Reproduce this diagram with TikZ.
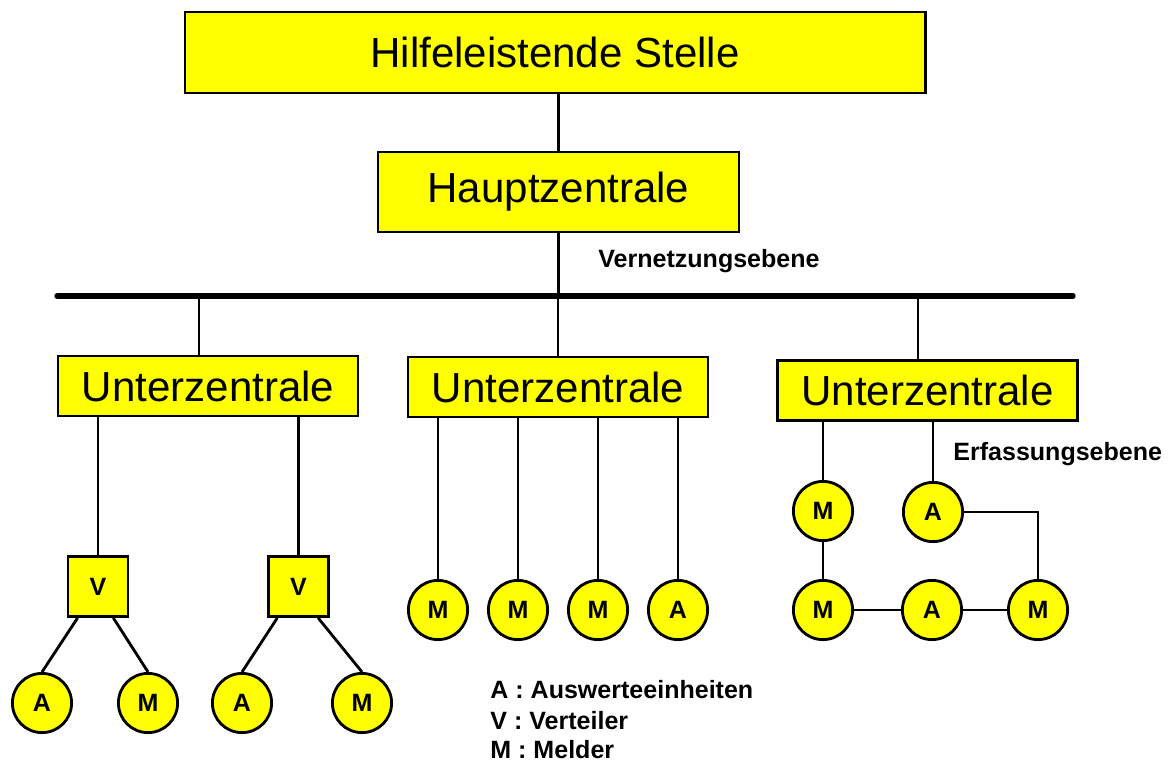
\documentclass[tikz,border=0pt]{standalone}
\usepackage{fontspec}
\setmainfont{Liberation Sans}
\usetikzlibrary{positioning}
\definecolor{gelb}{RGB}{255,255,0}

\begin{document}
\begin{tikzpicture}[x=0.025cm,y=-0.025cm,line width=2pt,
    kasten/.style={draw,fill=gelb,inner sep=0pt,font=\fontsize{29.9}{34}\selectfont},
    unterz/.style={kasten,minimum width=7.5cm,minimum height=1.5cm},
    verteiler/.style={draw,fill=gelb,inner sep=0pt,minimum size=1.5cm,font=\fontsize{17.8}{21}\selectfont\bfseries},
    rund/.style={draw,fill=gelb,circle,inner sep=0pt,minimum size=1.48cm,font=\fontsize{17.8}{21}\selectfont\bfseries},
    notiz/.style={anchor=base west,inner sep=0pt,font=\fontsize{17.8}{21}\selectfont\bfseries}]
    \useasboundingbox (0,0) rectangle (1169,763);
    % Leitstelle und Hauptzentrale
    \node[kasten,minimum width=18.5cm,minimum height=2.025cm] (hs) at (555,52.5) {Hilfeleistende Stelle};
    \node[kasten,minimum width=9.025cm,minimum height=2cm] (hz) at (558.5,192) {Hauptzentrale};
    \draw (hz.north) -- (hz.north |- hs.south);
    % Vernetzungsebene
    \coordinate (busL) at (57,296);
    \coordinate (busR) at (1073,296);
    \coordinate (b1) at (199,296);
    \coordinate (b3) at (918,296);
    \draw[line width=3.8pt,line cap=round] (busL) -- (busR);
    \draw (hz.south) -- (hz.south |- busL);
    \node[notiz] (vn) at (597,267) {Vernetzungsebene};
    \node[unterz] (uz1) at (208,386) {Unterzentrale};
    \node[unterz] (uz2) at (558,387) {Unterzentrale};
    \node[unterz] (uz3) at (927.5,390.5) {Unterzentrale};
    \draw (b1) -- (b1 |- uz1.north);
    \draw (uz2.north) -- (uz2.north |- busL);
    \draw (b3) -- (b3 |- uz3.north);
    % links: ueber Verteiler
    \node[verteiler] (v1) at (98,586.5) {V};
    \node[verteiler] (v2) at (298.5,586.5) {V};
    \node[rund] (a1) at (42,703) {A};
    \node[rund] (m1) at (148,703) {M};
    \node[rund] (a2) at (242,703) {A};
    \node[rund] (m2) at (362,703) {M};
    \draw (v1.north) -- (v1.north |- uz1.south);
    \draw (v2.north) -- (v2.north |- uz1.south);
    \draw (v1.-123) -- (a1.north);
    \draw (v1.-64) -- (m1.north);
    \draw (v2.-124) -- (a2.north);
    \draw (v2.-58) -- (m2.north);
    % Mitte: Stich
    \foreach \x/\t [count=\i] in {438/M,518/M,598/M,678/A}{
        \node[rund] (c\i) at (\x,610) {\t};
        \draw (c\i.north) -- (c\i.north |- uz2.south);
    }
    % rechts: Ring
    \node[rund] (r1) at (823,511) {M};
    \node[rund] (r2) at (933,512) {A};
    \node[rund] (r3) at (823,610) {M};
    \node[rund] (r4) at (932,610) {A};
    \node[rund] (r5) at (1038,610) {M};
    \draw (r1.north) -- (r1.north |- uz3.south);
    \draw (r2.north) -- (r2.north |- uz3.south);
    \draw (r1) -- (r3);
    \draw (r3) -- (r4) -- (r5);
    \draw (r2.east) -| (r5.north);
    \node[notiz] (ee) at (952,460) {Erfassungsebene};
    % Legende
    \node[notiz] (l1) at (489,698) {A : Auswerteeinheiten};
    \node[notiz] (l2) at (489,729) {V : Verteiler};
    \node[notiz] (l3) at (489,758) {M : Melder};
\end{tikzpicture}
\end{document}
